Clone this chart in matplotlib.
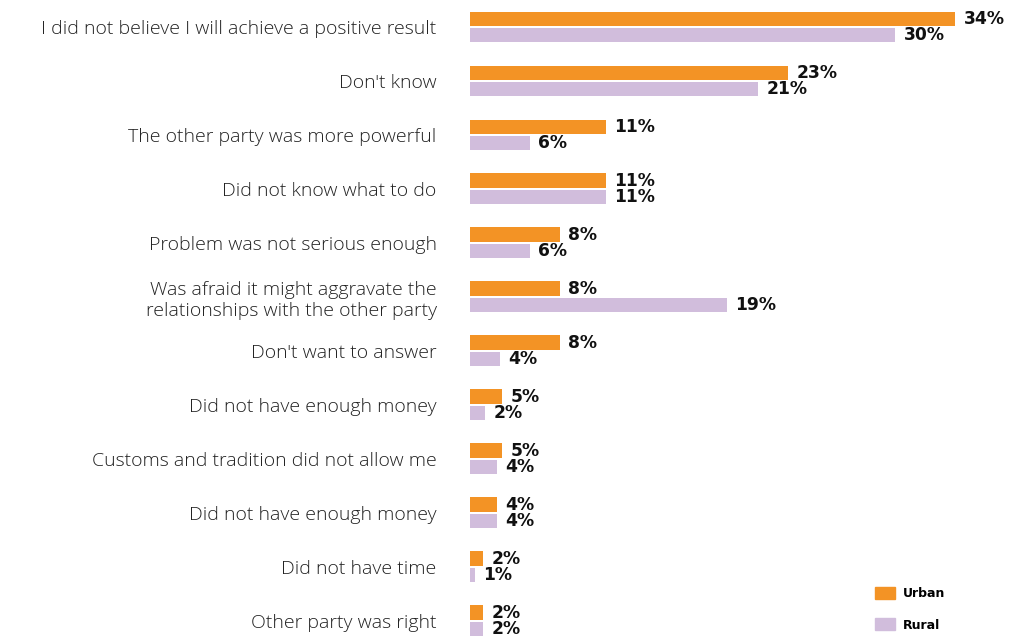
import numpy as np
import matplotlib
matplotlib.use('Agg')
import matplotlib.pyplot as plt
from matplotlib.patches import Patch

# categories, top to bottom
reasons = [
    "I did not believe I will achieve a positive result",
    "Don't know",
    "The other party was more powerful",
    "Did not know what to do",
    "Problem was not serious enough",
    "Was afraid it might aggravate the\nrelationships with the other party",
    "Don't want to answer",
    "Did not have enough money",
    "Customs and tradition did not allow me",
    "Did not have enough money",
    "Did not have time",
    "Other party was right",
]

# bar lengths as drawn in the picture (percent scale)
urban = [34.0, 22.3, 9.5, 9.5, 6.3, 6.3, 6.3, 2.25, 2.25, 1.9, 0.9, 0.9]
rural = [29.8, 20.2, 4.2, 9.5, 4.2, 18.0, 2.1, 1.05, 1.9, 1.9, 0.35, 0.9]

# printed value labels
urban_labels = ['34%', '23%', '11%', '11%', '8%', '8%', '8%', '5%', '5%', '4%', '2%', '2%']
rural_labels = ['30%', '21%', '6%', '11%', '6%', '19%', '4%', '2%', '4%', '4%', '1%', '2%']

ORANGE = '#F39325'
LILAC = '#D1BDDC'

plt.rcParams['font.family'] = ['Open Sans', 'DejaVu Sans']

fig = plt.figure(figsize=(10.26, 6.38), dpi=100)
ax = fig.add_axes([470 / 1026, 0, 542 / 1026, 1])

y = np.arange(len(reasons))
h = 0.26
off = 0.157

ax.barh(y - off, urban, height=h, color=ORANGE)
ax.barh(y + off, rural, height=h, color=LILAC)

for yi, v, lab in zip(y, urban, urban_labels):
    ax.text(v + 0.6, yi - off, lab, va='center', ha='left', family='DejaVu Sans',
            fontsize=12.3, fontweight='bold', color='#111111')
for yi, v, lab in zip(y, rural, rural_labels):
    ax.text(v + 0.6, yi + off, lab, va='center', ha='left', family='DejaVu Sans',
            fontsize=12.3, fontweight='bold', color='#111111')

ax.set_xlim(0, 38)
ax.set_ylim(11.315, -0.5)
ax.set_yticks(y)
ax.set_yticklabels(reasons, fontsize=14, color='#222222', ha='right', fontweight='light')
ax.tick_params(axis='y', length=0, pad=24)
ax.set_xticks([])
for s in ax.spines.values():
    s.set_visible(False)

handles = [Patch(color=ORANGE, label='Urban'), Patch(color=LILAC, label='Rural')]
fig.legend(handles=handles, loc='upper left', bbox_to_anchor=(875 / 1026, 1 - 587 / 638),
           frameon=False, borderpad=0, borderaxespad=0, handlelength=1.6,
           handleheight=1.1, labelspacing=1.45, handletextpad=0.65,
           prop={'size': 9, 'weight': 'bold', 'family': 'DejaVu Sans'})

fig.savefig('out.png', dpi=100)
